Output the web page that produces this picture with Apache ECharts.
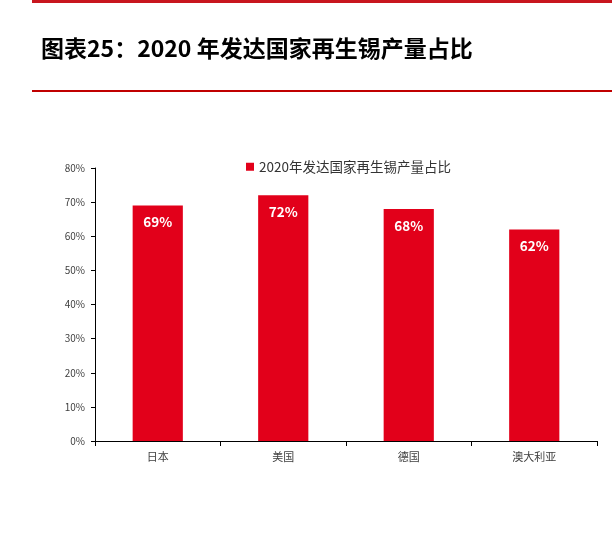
<!DOCTYPE html>
<html>
<head>
<meta charset="utf-8">
<script src="https://cdn.jsdelivr.net/npm/echarts@6/dist/echarts.min.js"></script>
<style>
  html, body { margin: 0; padding: 0; background: #fff; }
  #main { width: 612px; height: 547px; }
</style>
</head>
<body>
<div id="main"></div>
<script>
// 数据
const categories = ['日本', '美国', '德国', '澳大利亚']
const shareValues = [69, 72, 68, 62]
const yTicks = [0, 10, 20, 30, 40, 50, 60, 70, 80]
const seriesName = '2020年发达国家再生锡产量占比'
const titleText = '图表25：2020 年发达国家再生锡产量占比'

const chart = echarts.init(document.getElementById('main'))

const option = {
    animation: false,
    textStyle: {
        fontFamily: 'Noto Sans CJK SC'
    },
    title: {
        text: titleText,
        left: 36,
        top: 32,
        textStyle: {
            fontSize: 23,
            fontWeight: 'bold',
            color: '#000',
            fontFamily: 'Noto Sans CJK SC'
        }
    },
    graphic: [
        {type: 'rect', shape: {x: 32, y: 0, width: 580, height: 3}, style: {fill: '#c8161e'}},
        {type: 'rect', shape: {x: 32, y: 90, width: 580, height: 2}, style: {fill: '#c00000'}}
    ],
    legend: {
        data: [seriesName],
        top: 155,
        left: 241,
        itemWidth: 8,
        itemHeight: 8,
        itemGap: 5,
        icon: 'rect',
        textStyle: {
            fontSize: 13.5,
            color: '#333'
        }
    },
    grid: {
        left: 95,
        right: 15,
        top: 168,
        bottom: 106,
        containLabel: false
    },
    xAxis: {
        type: 'category',
        data: categories,
        axisLine: {lineStyle: {color: '#000', width: 1}},
        axisTick: {show: true, alignWithLabel: false, length: 5, lineStyle: {color: '#000'}},
        axisLabel: {color: '#404040', fontSize: 11, margin: 10}
    },
    yAxis: {
        type: 'value',
        min: yTicks[0],
        max: yTicks[yTicks.length - 1],
        interval: 10,
        splitLine: {show: false},
        axisLine: {show: true, lineStyle: {color: '#000', width: 1}},
        axisTick: {show: true, length: 4, lineStyle: {color: '#000'}},
        axisLabel: {
            color: '#404040',
            fontSize: 10,
            margin: 10,
            formatter: v => v + '%'
        }
    },
    series: [{
        name: seriesName,
        type: 'bar',
        data: shareValues,
        barWidth: '40%',
        itemStyle: {color: '#e2001a'},
        label: {
            show: true,
            position: 'insideTop',
            distance: 10,
            color: '#fff',
            fontSize: 13.5,
            fontWeight: 'bold',
            formatter: p => p.value + '%'
        }
    }]
}

chart.setOption(option)
</script>
</body>
</html>
